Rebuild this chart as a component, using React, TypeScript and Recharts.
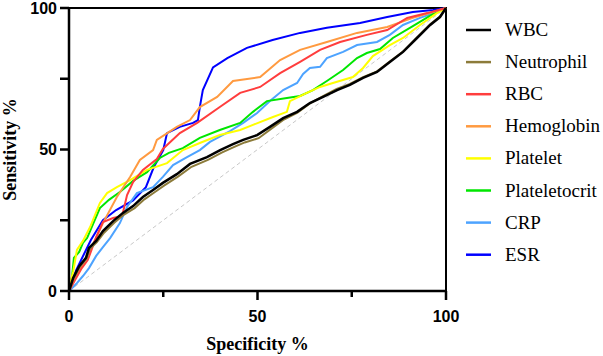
import React from 'react';
import { LineChart, Line, XAxis, YAxis, ReferenceLine, ReferenceArea, Legend } from 'recharts';

// ROC points as [100 - specificity, sensitivity]
const WBC: [number, number][] = [
  [0, 0], [0.5, 2.1], [1.1, 4.6], [2.7, 8.8], [4.5, 11.7], [5.3, 15.2], [7.2, 17.7], [9, 21.2],
  [11.7, 24.7], [14.3, 27.6], [17, 30], [19.6, 33.2], [22.3, 35.7], [24.9, 38.2], [28.6, 41.3],
  [32.1, 44.9], [36.6, 47.3], [40.1, 49.8], [43.5, 51.9], [46.2, 53.4], [49.9, 55.1], [53.3, 58],
  [56.8, 61.1], [60.5, 63.3], [63.9, 66.4], [67.4, 68.6], [71.1, 71], [74.5, 72.8], [78, 75.3],
  [81.7, 77.4], [85.1, 80.9], [88.6, 84.5], [92.3, 89.4], [95.8, 94], [98.4, 96.8], [100, 100],
];
const NEUTROPHIL: [number, number][] = [
  [0, 0], [0.6, 2.1], [1.3, 4.6], [2.9, 8.6], [4.7, 11.5], [5.5, 14.8], [7.4, 17.3], [9.3, 20.6],
  [12, 24.1], [14.6, 27], [17.4, 29.3], [20, 32.4], [22.7, 34.9], [25.3, 37.3], [29, 40.5],
  [32.5, 43.9], [37, 46.4], [40.5, 48.9], [44, 51], [46.6, 52.5], [50.3, 54], [53.6, 57.3],
  [57, 60.6], [60.6, 63], [64, 66.4], [67.4, 68.9], [71, 71.4], [74.5, 73.2], [78, 75.6],
  [81.7, 77.6], [85, 81], [88.6, 84.6], [92.3, 89.6], [95.8, 94.3], [98.4, 97], [100, 100],
];
const RBC: [number, number][] = [
  [0, 0], [1.6, 3.9], [3.4, 8.1], [5, 11], [7.2, 19], [9, 24.4], [11.7, 25.8], [14.1, 26.5],
  [15.4, 33.9], [17, 38.5], [19.6, 42.8], [23.3, 46.6], [24.9, 50.2], [29.4, 55.8], [34, 59.4],
  [40, 65], [45.4, 70], [50.7, 72.1], [56, 77], [61.3, 81], [66.6, 85.2], [71.9, 88], [79, 90.5],
  [84.4, 92.2], [89.7, 96.5], [95, 98.2], [100, 100],
];
const HEMOGLOBIN: [number, number][] = [
  [0, 0], [0.8, 2.1], [2.4, 6.7], [4.5, 11.7], [6.9, 18], [9, 24], [12.7, 33.2], [16.2, 40.3],
  [18.8, 46.3], [22.3, 49.8], [23.3, 53.4], [28.6, 58], [32.1, 60.4], [34.7, 65], [39.3, 68.6],
  [43.5, 74.2], [50.7, 75.6], [56, 81.6], [61.3, 85.2], [68.4, 88], [76.4, 91.2], [84.4, 93.3],
  [91.2, 96.5], [96.6, 98.6], [100, 100],
];
const PLATELET: [number, number][] = [
  [0, 0], [0.5, 3.9], [1.1, 6.7], [2.1, 14.5], [3.7, 17.7], [5.6, 22.6], [8.2, 31.1], [10.1, 34.6],
  [12.7, 36.7], [16.2, 39.2], [20.7, 42.8], [26, 45.2], [30.2, 49.8], [34.7, 52.3], [40, 55.1],
  [45.4, 56.9], [48.8, 58.7], [54.1, 61.5], [57.8, 63.3], [58.6, 67.1], [63.1, 70], [66.6, 72.1],
  [70, 73.5], [75.3, 75.6], [78, 78.8], [80.6, 83], [85.1, 86.9], [88.6, 89.4], [93.1, 94],
  [97.6, 98.2], [100, 100],
];
const PLATELETOCRIT: [number, number][] = [
  [0, 0], [0.8, 4.9], [1.3, 11.7], [2.7, 13.8], [3.7, 17], [4.8, 18.7], [6.4, 23.7], [8.2, 29.3],
  [10.6, 32.2], [13.5, 35], [17, 38.9], [20.7, 42], [24.1, 47], [26.5, 48.8], [30.2, 50.5],
  [34.7, 54.1], [40, 56.9], [45.4, 59.4], [48.8, 63.3], [52.5, 67.1], [57.8, 68.2], [61.3, 68.9],
  [64.7, 71], [68.4, 74.2], [72.7, 78.1], [76.4, 82.3], [79, 84.1], [82.5, 85.5], [85.9, 89.4],
  [91.2, 93.6], [96.6, 97.9], [100, 100],
];
const CRP: [number, number][] = [
  [0, 0], [1.1, 1.4], [2.1, 2.8], [3.7, 5.3], [5.3, 8.1], [7.2, 12.4], [9, 15.5], [10.9, 18.7],
  [13.5, 24], [15.4, 29.7], [18, 34.6], [22.3, 36.7], [24.9, 40.3], [27.6, 44.5], [31.3, 47.3],
  [34.7, 49.8], [37.4, 52.7], [42.7, 56.5], [46.2, 59.4], [49.9, 62.9], [53.3, 67.1], [56.8, 71],
  [60.5, 73.5], [62.1, 76.7], [63.9, 78.8], [66.6, 79.2], [68.4, 82.3], [72.7, 84.5], [76.4, 86.9],
  [81.7, 88], [85.1, 90.5], [88.6, 94], [93.1, 96.5], [97.6, 98.6], [100, 100],
];
const ESR: [number, number][] = [
  [0, 0], [1.9, 7.4], [5.8, 18], [9, 25], [12.5, 28.6], [17, 32], [20.4, 36.7], [22.5, 43.8],
  [25, 49.8], [26, 55.8], [29.4, 58], [32.9, 59.4], [34.2, 60.4], [34.7, 65], [35.5, 71], [38.2, 79],
  [42, 82.3], [47.2, 85.9], [54, 88.7], [61.3, 91.2], [68.4, 93], [77.2, 94.7], [84.4, 96.8],
  [91.2, 98.6], [96.6, 99.3], [100, 100],
];

const X_TICKS = [0, 25, 50, 75, 100];
const Y_TICKS = [0, 25, 50, 75, 100];

const SERIES = [
  { name: 'WBC', color: '#000000', points: WBC },
  { name: 'Neutrophil', color: '#8c7b3a', points: NEUTROPHIL },
  { name: 'RBC', color: '#ff3d3d', points: RBC },
  { name: 'Hemoglobin', color: '#ff9a40', points: HEMOGLOBIN },
  { name: 'Platelet', color: '#ffff00', points: PLATELET },
  { name: 'Plateletocrit', color: '#00e600', points: PLATELETOCRIT },
  { name: 'CRP', color: '#4da3ff', points: CRP },
  { name: 'ESR', color: '#0000ff', points: ESR },
];

const sansBold = { fontFamily: '"Liberation Sans", Arial, sans-serif', fontWeight: 700, fontSize: 16, fill: '#000' };
const serif = '"Liberation Serif", "Times New Roman", serif';

const XTick = (props: any) => {
  const { x, y, payload } = props;
  const major = payload.value % 50 === 0;
  return (
    <g>
      <line x1={x} x2={x} y1={y} y2={y + (major ? 9 : 6)} stroke="#000" strokeWidth={2.5} />
      {major && (
        <text x={x} y={y + 31} textAnchor="middle" style={sansBold}>
          {payload.value}
        </text>
      )}
    </g>
  );
};

const renderLegend = () => (
  <svg width={140} height={260}>
    {SERIES.map((s, i) => {
      const cy = 16 + i * 32.1;
      return (
        <g key={s.name}>
          <line x1={0} x2={25} y1={cy} y2={cy} stroke={s.color} strokeWidth={2.5} />
          <text x={39} y={cy + 6} fontFamily={serif} fontSize={19} fill="#000">{s.name}</text>
        </g>
      );
    })}
  </svg>
);

export default function App() {
  // draw back to front so WBC ends on top
  const drawOrder = [...SERIES].reverse();
  return (
    <div style={{ position: 'absolute', left: 0, top: 0 }}>
      <LineChart width={603} height={356} margin={{ top: 8, right: 157, bottom: 5, left: 9 }}>
        <XAxis
          type="number"
          dataKey="x"
          domain={[0, 100]}
          ticks={X_TICKS}
          interval={0}
          height={60}
          tickSize={0}
          tickMargin={0}
          tickLine={false}
          axisLine={{ stroke: '#000', strokeWidth: 2.5 }}
          tick={<XTick />}
          label={{
            content: (p: any) => (
              <text
                x={p.viewBox.x + p.viewBox.width / 2}
                y={350}
                textAnchor="middle"
                fontFamily={serif}
                fontWeight={700}
                fontSize={18}
                fill="#000"
              >
                Specificity %
              </text>
            ),
          }}
        />
        <YAxis
          type="number"
          dataKey="y"
          domain={[0, 100]}
          ticks={Y_TICKS}
          interval={0}
          width={60}
          tickSize={9}
          tickMargin={3}
          tickFormatter={(v: number) => (v % 50 === 0 ? String(v) : '')}
          tick={sansBold}
          tickLine={{ stroke: '#000', strokeWidth: 2.5 }}
          axisLine={{ stroke: '#000', strokeWidth: 2.5 }}
          label={{
            content: (p: any) => {
              const cx = 16;
              const cy = p.viewBox.y + p.viewBox.height / 2;
              return (
                <text
                  x={cx}
                  y={cy}
                  transform={`rotate(-90 ${cx} ${cy})`}
                  textAnchor="middle"
                  fontFamily={serif}
                  fontWeight={700}
                  fontSize={18}
                  fill="#000"
                >
                  Sensitivity %
                </text>
              );
            },
          }}
        />
        <ReferenceArea x1={0} x2={100} y1={0} y2={100} fill="none" fillOpacity={0} stroke="#000" strokeWidth={2} />
        <ReferenceLine
          segment={[{ x: 0, y: 0 }, { x: 100, y: 100 }]}
          stroke="#c8c8c8"
          strokeDasharray="4 3"
          strokeWidth={1}
        />
        {drawOrder.map((s) => (
          <Line
            key={s.name}
            name={s.name}
            data={s.points.map(([x, y]) => ({ x, y }))}
            dataKey="y"
            type="linear"
            stroke={s.color}
            strokeWidth={s.name === 'WBC' ? 2.5 : 2}
            dot={false}
            activeDot={false}
            isAnimationActive={false}
          />
        ))}
        <Legend
          layout="vertical"
          align="center"
          verticalAlign="middle"
          content={renderLegend}
          wrapperStyle={{ left: 466, top: 14, width: 140, height: 260 }}
        />
      </LineChart>
    </div>
  );
}
